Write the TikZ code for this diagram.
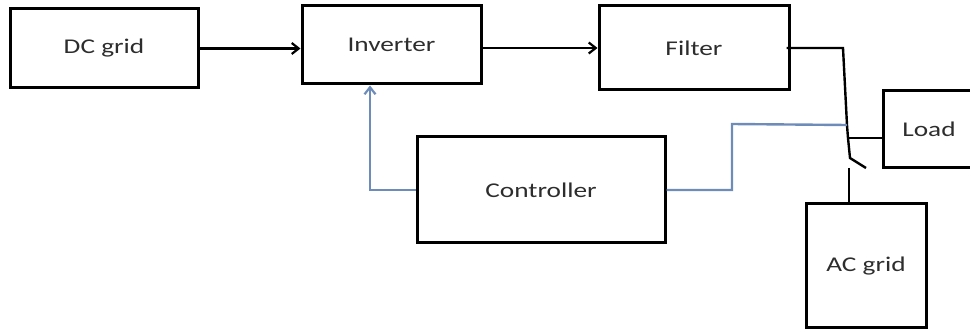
\documentclass[tikz,border=0pt]{standalone}
\usepackage{fontspec}
\setmainfont[FakeStretch=1.3]{Carlito}
\usetikzlibrary{arrows.meta}
\definecolor{txt}{RGB}{45,45,45}
\definecolor{ctl}{RGB}{110,140,185}
\begin{document}
\begin{tikzpicture}[x=1pt,y=-1pt,
  blk/.style={draw=black, line width=3pt, rectangle, inner sep=0pt,
    text=txt, font=\fontsize{21}{25}\selectfont},
  wire/.style={draw=black, line width=2.4pt},
  ctlw/.style={draw=ctl, line width=2.4pt},
  arr/.style={-{Straight Barb[length=7pt,width=11pt,line width=2.2pt]}}]
\useasboundingbox (0,0) rectangle (970,331);
\clip (0,0) rectangle (970,331);
% blocks
\node[blk, minimum width=188pt, minimum height=79pt] (dc) at (104,48.5) {DC grid};
\node[blk, minimum width=179pt, minimum height=78pt] (inv) at (391.5,45) {Inverter};
\node[blk, minimum width=190pt, minimum height=84pt] (filt) at (694,48) {Filter};
\node[blk, minimum width=248pt, minimum height=106pt] (ctrl) at (541,190) {Controller};
\node[blk, minimum width=92pt, minimum height=77pt] (load) at (929,129.5) {Load};
\node[blk, minimum width=120pt, minimum height=124pt] (ac) at (866,266) {AC grid};
% switch geometry
\coordinate (c1) at (843,48);
\coordinate (c2) at (847,125);
\coordinate (j) at (848,138);
\coordinate (piv) at (850,158);
\coordinate (blade) at (866,168);
\coordinate (acc) at (849,168);
\coordinate (b1) at (732,190);
\coordinate (b2) at (732,124);
% power path
\draw[wire, arr] (dc.east) -- (dc.east -| inv.west);
\draw[wire, arr] (inv.east |- filt.west) -- (filt.west);
\draw[wire] ([xshift=-4pt]filt.east) -- (c1) -- (c2) -- (j) -- (piv) -- (blade);
\draw[wire] (j) -- (j -| load.west);
\draw[wire] (acc) -- (acc |- ac.north);
% control path
\draw[ctlw, arr] (ctrl.west) -| ([xshift=-21.5pt]inv.south);
\draw[ctlw] (ctrl.east) -- (b1) -- (b2) -- (c2);
\end{tikzpicture}
\end{document}
